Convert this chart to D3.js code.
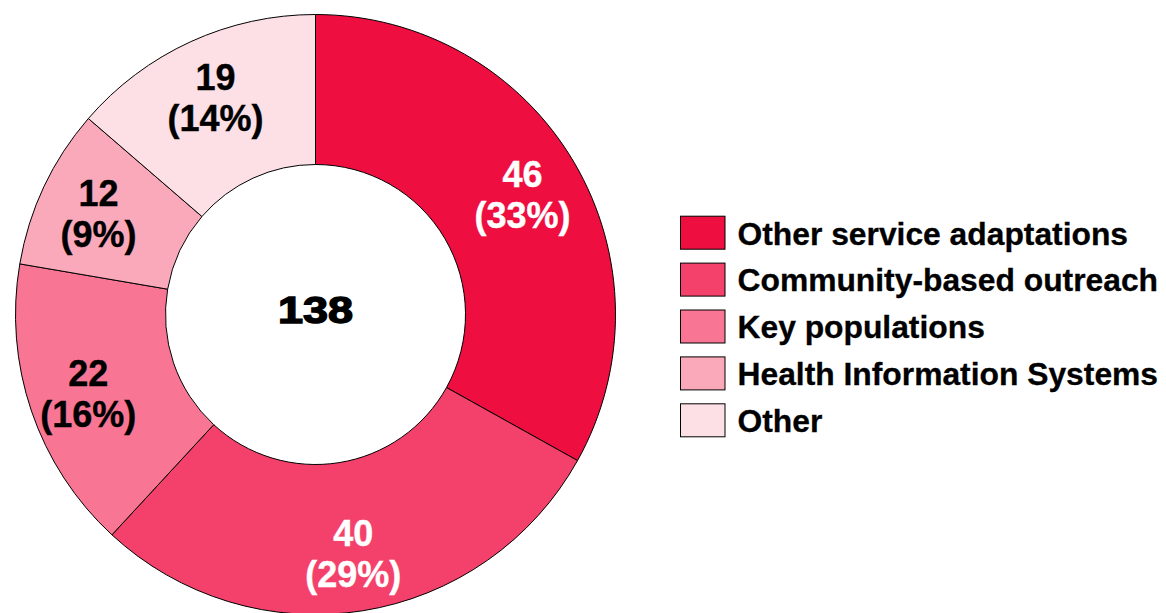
<!DOCTYPE html>
<html>
<head>
<meta charset="utf-8">
<script src="https://cdn.jsdelivr.net/npm/d3@7"></script>
<style>
  html, body { margin: 0; padding: 0; background: #fff; }
  svg { display: block; }
  text { font-family: "Liberation Sans", Arial, Helvetica, sans-serif; font-weight: bold; }
</style>
</head>
<body>
<svg id="chart" width="1166" height="613"></svg>
<script>
const categories = ["Other service adaptations", "Community-based outreach", "Key populations", "Health Information Systems", "Other"];
const values = [46, 40, 22, 12, 19];
const percentLabels = ["33%", "29%", "16%", "9%", "14%"];
const totalLabel = "138";
const colors = ["#EE0E3F", "#F4416B", "#F87693", "#FAA9BB", "#FDE0E6"];
const labelColors = ["#ffffff", "#ffffff", "#000000", "#000000", "#000000"];

const svg = d3.select("#chart");
const cx = 315.5, cy = 314.5;
const outerR = 300, innerR = 150, labelR = 240;

const data = categories.map((c, i) => ({ category: c, value: values[i], pct: percentLabels[i], color: colors[i], labelColor: labelColors[i] }));

const pie = d3.pie().value(d => d.value).sort(null);
const arc = d3.arc().innerRadius(innerR).outerRadius(outerR);
const labelArc = d3.arc().innerRadius(labelR).outerRadius(labelR);

const g = svg.append("g").attr("transform", `translate(${cx},${cy})`);
const arcs = pie(data);

g.selectAll("path.slice")
  .data(arcs)
  .join("path")
  .attr("class", "slice")
  .attr("d", arc)
  .attr("fill", d => d.data.color)
  .attr("stroke", "#000")
  .attr("stroke-width", 1);

const labels = g.selectAll("g.label")
  .data(arcs)
  .join("g")
  .attr("class", "label")
  .attr("transform", d => { const [x, y] = labelArc.centroid(d); return `translate(${x},${y})`; });

labels.append("text")
  .attr("text-anchor", "middle")
  .attr("y", -6)
  .attr("font-size", 36)
  .attr("fill", d => d.data.labelColor)
  .attr("stroke", d => d.data.labelColor)
  .attr("stroke-width", 0.4)
  .text(d => d.data.value);

labels.append("text")
  .attr("text-anchor", "middle")
  .attr("y", 35)
  .attr("font-size", 36)
  .attr("fill", d => d.data.labelColor)
  .attr("stroke", d => d.data.labelColor)
  .attr("stroke-width", 0.4)
  .text(d => `(${d.data.pct})`);

// centre total
g.append("text")
  .attr("text-anchor", "middle")
  .attr("font-size", 36)
  .attr("fill", "#000")
  .attr("stroke", "#000")
  .attr("stroke-width", 1.4)
  .attr("transform", "translate(0,8.8) scale(1.25,1)")
  .text(totalLabel);

// legend
const legend = svg.append("g").attr("transform", "translate(680,215.7)");
const rowStep = 46.9;
const items = legend.selectAll("g.item")
  .data(data)
  .join("g")
  .attr("class", "item")
  .attr("transform", (d, i) => `translate(0,${i * rowStep})`);

items.append("rect")
  .attr("x", 0.5).attr("y", 0.5)
  .attr("width", 44.5).attr("height", 33)
  .attr("fill", d => d.color)
  .attr("stroke", "#000")
  .attr("stroke-width", 1);

items.append("text")
  .attr("x", 57.5)
  .attr("y", 28.8)
  .attr("font-size", 31.8)
  .attr("fill", "#000")
  .attr("stroke", "#000")
  .attr("stroke-width", 0.3)
  .text(d => d.category);
</script>
</body>
</html>
